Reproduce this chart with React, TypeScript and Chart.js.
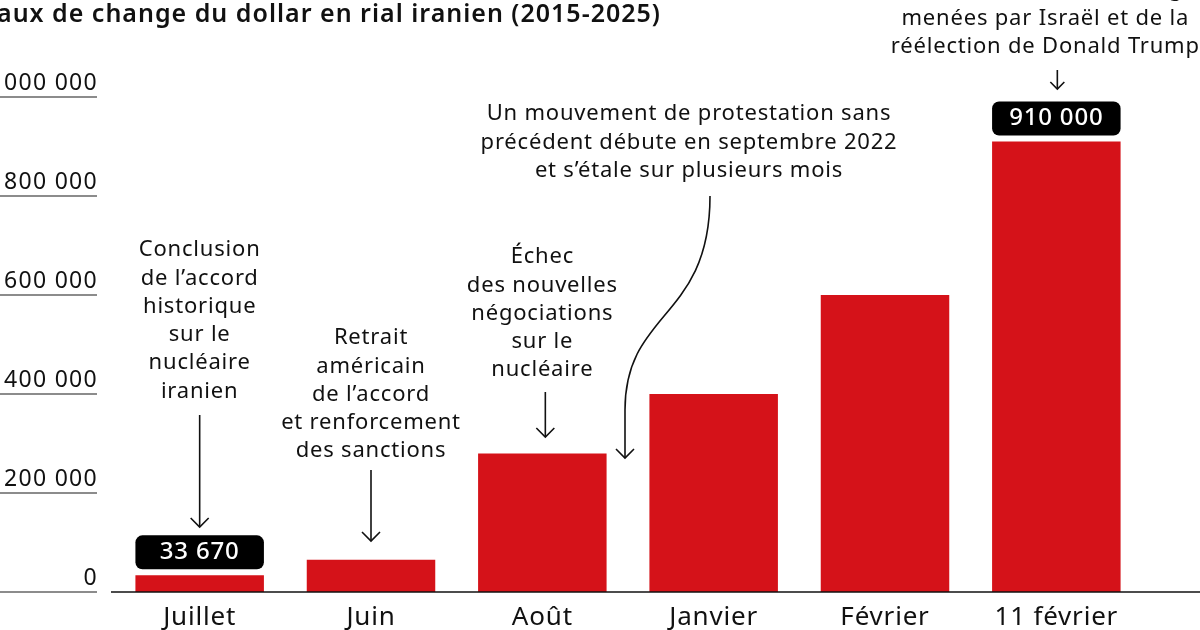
import React, { useEffect, useRef } from "react";
import { Chart, registerables } from "chart.js";

Chart.register(...registerables);

const categories = ["Juillet", "Juin", "Août", "Janvier", "Février", "11 février"];
const values = [33670, 65000, 280000, 400000, 600000, 910000];
const yTicks = [0, 200000, 400000, 600000, 800000, 1000000];
const labeledBars = [0, 5];
const title = "Taux de change du dollar en rial iranien (2015-2025)";

const noteJuillet = ["Conclusion", "de l’accord", "historique", "sur le", "nucléaire", "iranien"];
const noteJuin = ["Retrait", "américain", "de l’accord", "et renforcement", "des sanctions"];
const noteAout = ["Échec", "des nouvelles", "négociations", "sur le", "nucléaire"];
const noteProtest = [
  "Un mouvement de protestation sans",
  "précédent débute en septembre 2022",
  "et s’étale sur plusieurs mois",
];
const noteFevrier = ["Sous l’effet des chocs liés aux guerres", "menées par Israël et de la", "réélection de Donald Trump"];

const FONT = '"Noto Sans", "Open Sans", sans-serif';
const RED = "#d51219";

function fmt(v: number): string {
  return String(v).replace(/\B(?=(\d{3})+(?!\d))/g, " ");
}

function arrowHead(ctx: CanvasRenderingContext2D, x: number, y: number, s: number) {
  ctx.beginPath();
  ctx.moveTo(x - s, y - s);
  ctx.lineTo(x, y);
  ctx.lineTo(x + s, y - s);
  ctx.stroke();
}

function vArrow(ctx: CanvasRenderingContext2D, x: number, y1: number, y2: number, s = 9) {
  ctx.beginPath();
  ctx.moveTo(x, y1);
  ctx.lineTo(x, y2);
  ctx.stroke();
  arrowHead(ctx, x, y2, s);
}

function textLines(ctx: CanvasRenderingContext2D, lines: string[], x: number, y0: number, lh: number) {
  ctx.textAlign = "center";
  ctx.textBaseline = "middle";
  lines.forEach((l, i) => ctx.fillText(l, x, y0 + i * lh));
}

const spacingPlugin = {
  id: "spacing",
  beforeDraw(chart: any) {
    (chart.ctx as any).letterSpacing = "0.8px";
  },
};

const decorPlugin = {
  id: "decor",
  afterDatasetsDraw(chart: any) {
    const ctx: CanvasRenderingContext2D = chart.ctx;
    const xs = chart.scales.x;
    const ys = chart.scales.y;
    const bars = chart.getDatasetMeta(0).data;
    ctx.save();

    // title
    ctx.fillStyle = "#111";
    (ctx as any).letterSpacing = "1px";
    ctx.font = `600 25px ${FONT}`;
    ctx.textAlign = "left";
    ctx.textBaseline = "middle";
    const tw = ctx.measureText("T").width;
    ctx.fillText(title, -tw - 1, 15);

    // y labels with underline
    (ctx as any).letterSpacing = "1.3px";
    ctx.font = `23px ${FONT}`;
    yTicks.forEach((v) => {
      const y = ys.getPixelForValue(v);
      ctx.fillStyle = "#111";
      ctx.textAlign = "right";
      ctx.textBaseline = "middle";
      ctx.fillText(fmt(v), 98, y - 14);
      ctx.strokeStyle = "#666";
      ctx.lineWidth = 1.5;
      ctx.beginPath();
      ctx.moveTo(0, y);
      ctx.lineTo(97, y);
      ctx.stroke();
    });
    (ctx as any).letterSpacing = "0.8px";

    // baseline
    const y0 = ys.getPixelForValue(0);
    ctx.strokeStyle = "#111";
    ctx.lineWidth = 1.5;
    ctx.beginPath();
    ctx.moveTo(111, y0);
    ctx.lineTo(1200, y0);
    ctx.stroke();

    // value boxes
    labeledBars.forEach((i) => {
      const b = bars[i];
      const w = b.width;
      const top = b.y - 6 - 34;
      ctx.fillStyle = "#000";
      ctx.beginPath();
      (ctx as any).roundRect(b.x - w / 2, top, w, 34, 7);
      ctx.fill();
      ctx.fillStyle = "#fff";
      ctx.font = `500 24px ${FONT}`;
      ctx.textAlign = "center";
      ctx.textBaseline = "middle";
      ctx.fillText(fmt(values[i]), b.x, top + 17);
    });

    // annotations
    ctx.fillStyle = "#111";
    ctx.strokeStyle = "#111";
    ctx.lineWidth = 1.6;
    ctx.font = `22px ${FONT}`;
    const lh = 28.3;

    const x0 = xs.getPixelForValue(0);
    textLines(ctx, noteJuillet, x0, 250, lh);
    vArrow(ctx, x0, 415, 527);

    const x1 = xs.getPixelForValue(1);
    textLines(ctx, noteJuin, x1, 338, lh);
    vArrow(ctx, x1, 470, 541);

    const x2 = xs.getPixelForValue(2);
    textLines(ctx, noteAout, x2, 257, lh);
    vArrow(ctx, x2 + 3, 392, 437);

    const xm = (xs.getPixelForValue(2) + xs.getPixelForValue(3)) / 2;
    textLines(ctx, noteProtest, xm + 61, 114, lh);
    ctx.beginPath();
    ctx.moveTo(xm + 82, 196);
    ctx.bezierCurveTo(xm + 82, 320, xm - 3, 310, xm - 3, 410);
    ctx.lineTo(xm - 3, 458);
    ctx.stroke();
    arrowHead(ctx, xm - 3, 458, 9);

    const x5 = xs.getPixelForValue(5);
    textLines(ctx, noteFevrier, x5 - 11, -10, lh);
    vArrow(ctx, x5 + 1, 70, 89, 7);

    ctx.restore();
  },
};

export default function App() {
  const ref = useRef<HTMLCanvasElement>(null);
  useEffect(() => {
    if (!ref.current) return;
    const chart = new Chart(ref.current, {
      type: "bar",
      data: {
        labels: categories,
        datasets: [
          {
            data: values,
            backgroundColor: RED,
            borderWidth: 0,
            barPercentage: 0.75,
            categoryPercentage: 1,
          },
        ],
      },
      options: {
        responsive: false,
        animation: false,
        devicePixelRatio: 1,
        layout: { padding: { left: 114, right: 58, top: 97, bottom: 0 } },
        plugins: { legend: { display: false }, tooltip: { enabled: false } },
        scales: {
          x: {
            grid: { display: false, drawTicks: false },
            border: { display: false },
            ticks: {
              color: "#111",
              font: { family: FONT, size: 26 },
              padding: 10,
              maxRotation: 0,
              autoSkip: false,
            },
            afterFit: (s: any) => {
              s.height = 38;
            },
          },
          y: {
            display: false,
            min: 0,
            max: 1000000,
          },
        },
      },
      plugins: [spacingPlugin, decorPlugin],
    });
    return () => chart.destroy();
  }, []);
  return (
    <div style={{ position: "fixed", left: 0, top: 0, width: 1200, height: 630, background: "#fff" }}>
      <canvas ref={ref} width={1200} height={630} />
    </div>
  );
}
